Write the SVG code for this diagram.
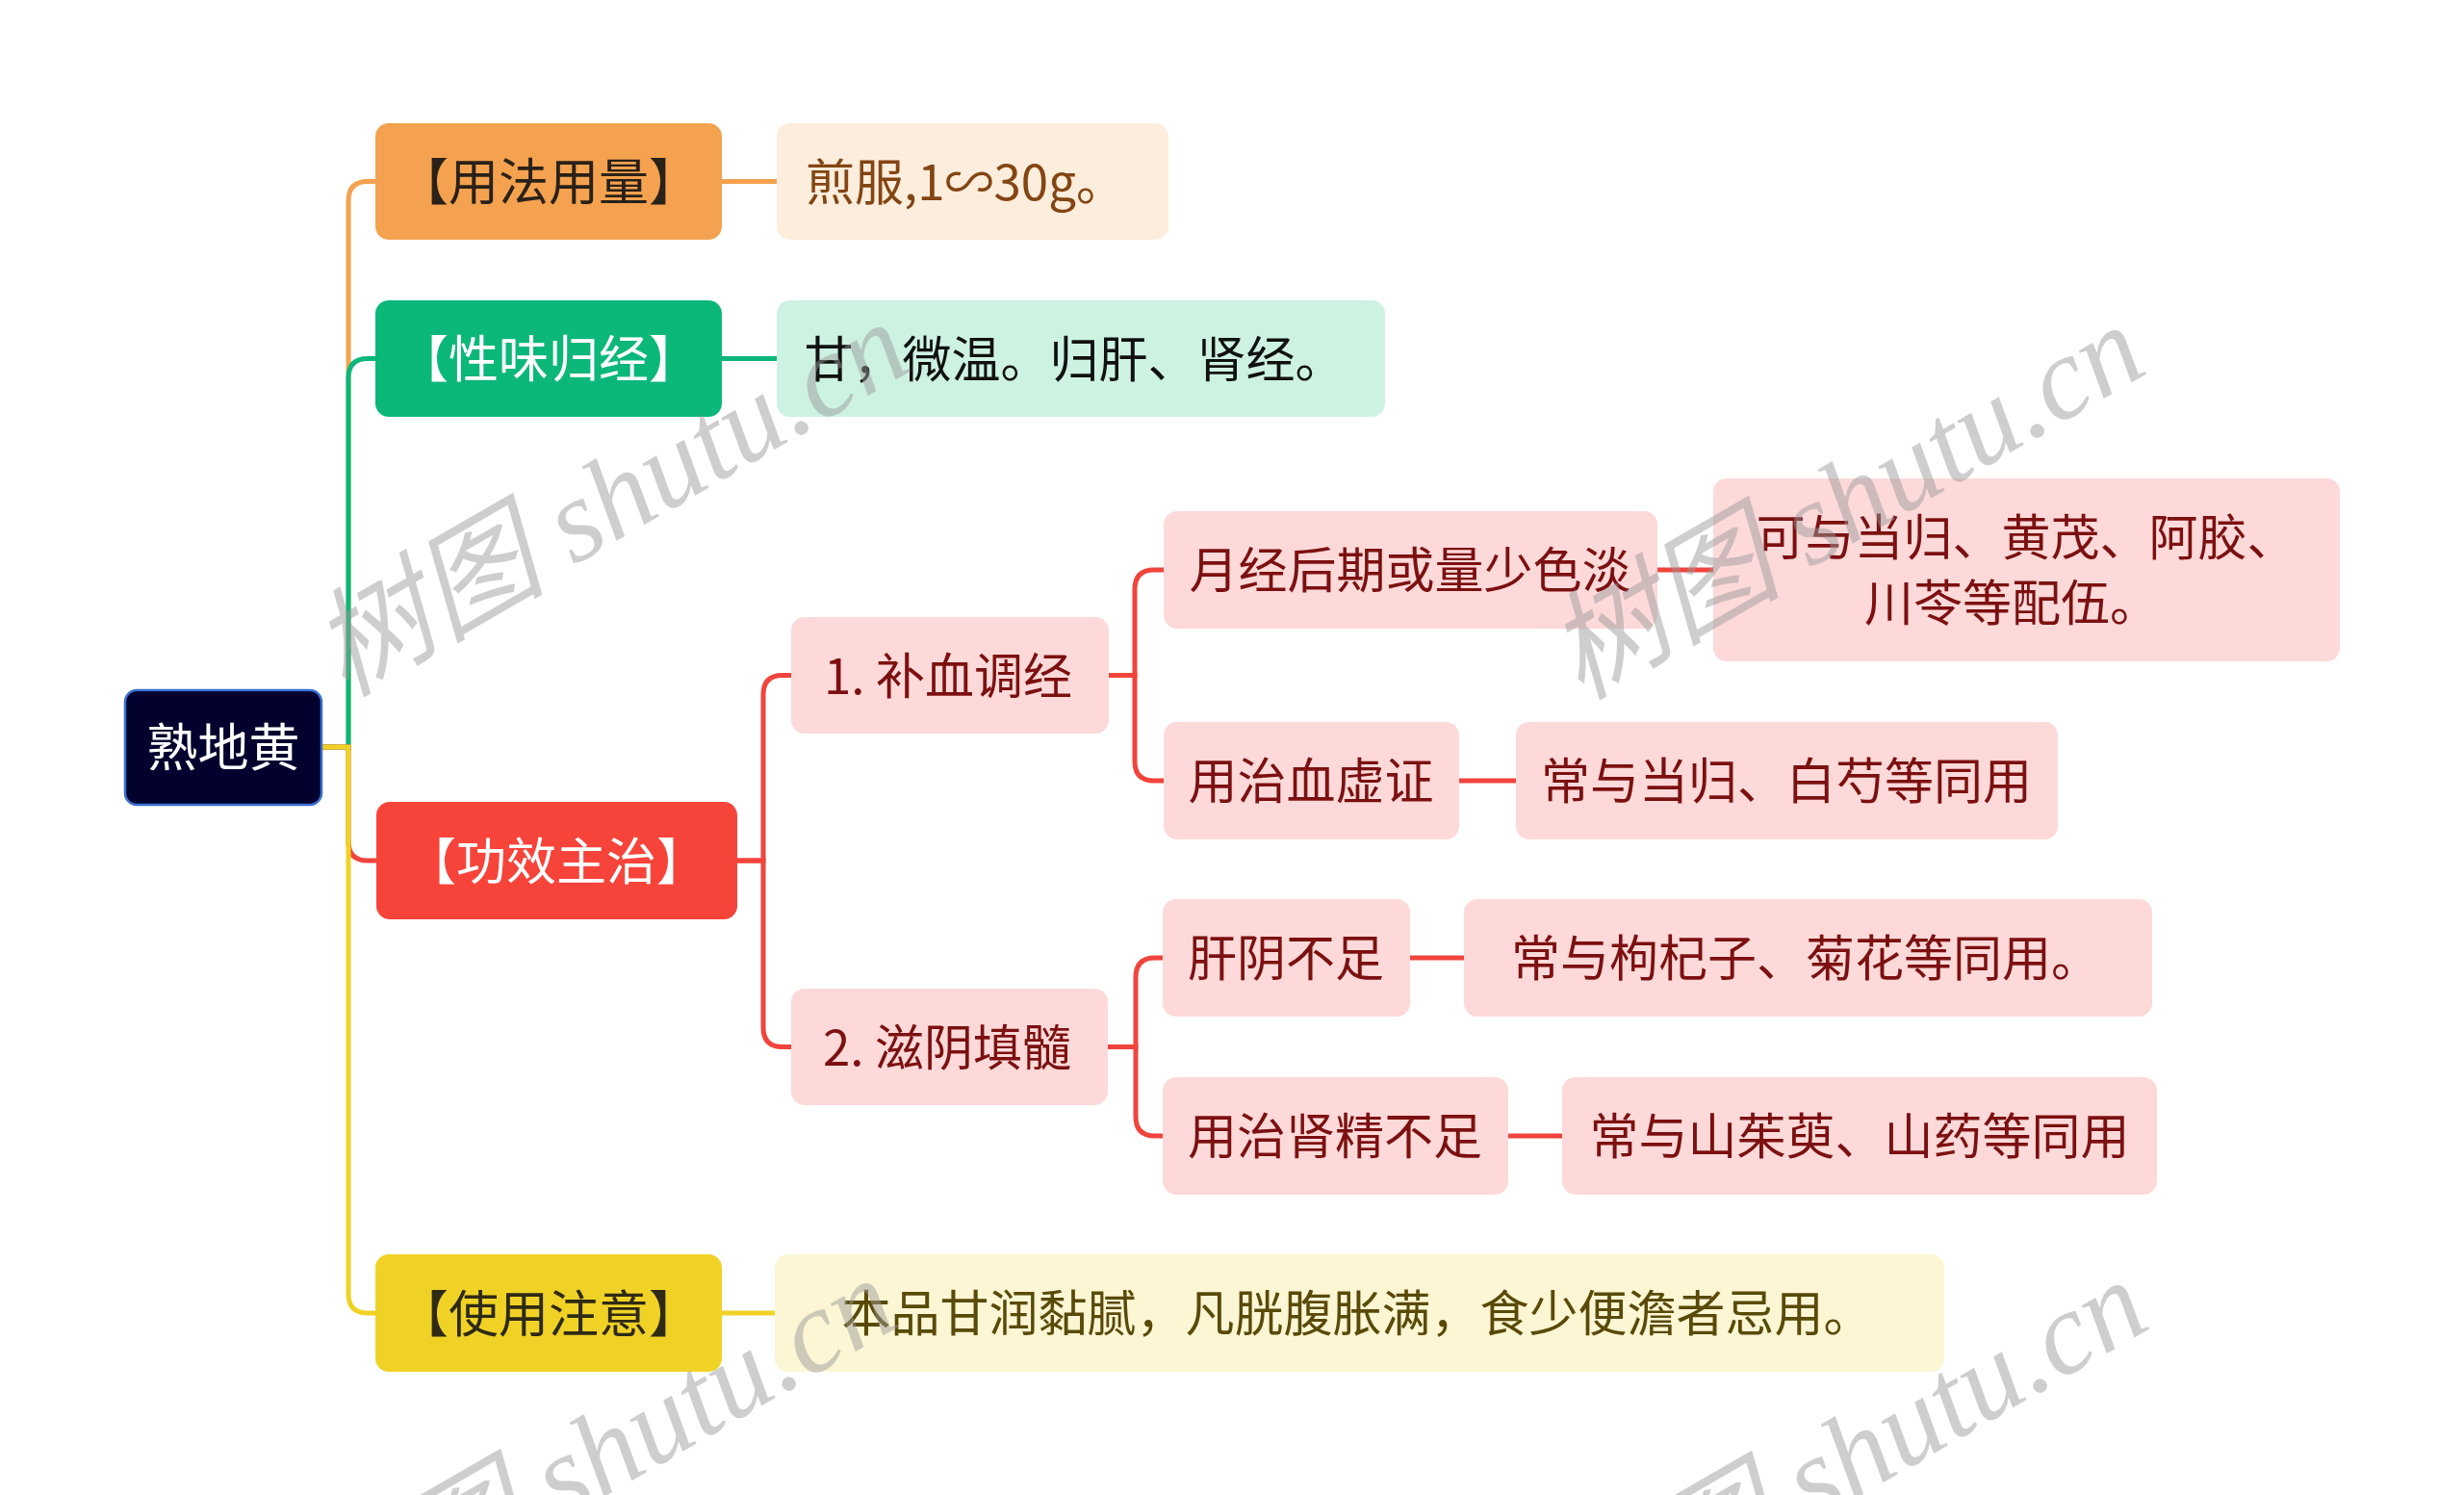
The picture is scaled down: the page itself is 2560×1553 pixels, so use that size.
<svg xmlns="http://www.w3.org/2000/svg" width="2560" height="1553" viewBox="0 0 2560 1553">
<style>
text{font-family:"Noto Sans CJK SC","Noto Sans",sans-serif;text-anchor:middle;dominant-baseline:central}
.l1{font-size:52px}
.l2{font-size:51px}
.pk rect{fill:#fdd9d9}
.pk text{fill:#7c1010}
.ln{fill:none;stroke-width:5;stroke-linecap:butt}
.o{stroke:#f4a24f}.g{stroke:#0cb77a}.r{stroke:#f0443c}.y{stroke:#f0d226}
.wm{font-family:"Liberation Serif","Noto Sans CJK SC",serif;font-style:italic;font-size:122px;fill:#9a9a9a;opacity:0.48;text-anchor:start;dominant-baseline:auto}
</style>
<rect width="2560" height="1553" fill="#ffffff"/>
<g id="connectors">
<path class="ln o" d="M334,776 H362 V208.5 Q362,188.5 382,188.5 H390"/>
<path class="ln g" d="M334,776 H362 V392.5 Q362,372.5 382,372.5 H390"/>
<path class="ln r" d="M334,776 H362 V874 Q362,894 382,894 H391"/>
<path class="ln y" d="M334,776 H362 V1344 Q362,1364 382,1364 H390"/>
<path class="ln o" d="M750,188.5 H807"/>
<path class="ln g" d="M750,372.5 H807"/>
<path class="ln y" d="M750,1364 H805"/>
<path class="ln r" d="M766,894 H793 V721.5 Q793,701.5 813,701.5 H822"/>
<path class="ln r" d="M766,894 H793 V1067.5 Q793,1087.5 813,1087.5 H822"/>
<path class="ln r" d="M1152,701.5 H1179 V612 Q1179,592 1199,592 H1209"/>
<path class="ln r" d="M1152,701.5 H1179 V791 Q1179,811 1199,811 H1209"/>
<path class="ln r" d="M1151,1087.5 H1180 V1015 Q1180,995 1200,995 H1208"/>
<path class="ln r" d="M1151,1087.5 H1180 V1160 Q1180,1180 1200,1180 H1208"/>
<path class="ln r" d="M1722,592 H1780"/>
<path class="ln r" d="M1516,811 H1575"/>
<path class="ln r" d="M1465,995 H1521"/>
<path class="ln r" d="M1567,1180 H1623"/>
</g>
<g id="root"><rect x="130" y="717" width="204" height="119" rx="12" fill="#03022f" stroke="#3a6fd1" stroke-width="2.5"/><text x="232" y="773" font-size="53" fill="#ffffff">熟地黄</text></g>
<g id="n-yongfa"><rect x="390" y="128" width="360" height="121" rx="14" fill="#f4a24f"/><text class="l1" x="570" y="185.5" fill="#2a2118">【用法用量】</text></g>
<g id="n-jianfu"><rect x="807" y="128" width="407" height="121" rx="14" fill="#fdeddc"/><text class="l2" x="1003" y="185.5" fill="#834512">煎服,1∽30g。</text></g>
<g id="n-xingwei"><rect x="390" y="312" width="360" height="121" rx="14" fill="#0cb77a"/><text class="l1" x="570" y="369.5" fill="#ffffff">【性味归经】</text></g>
<g id="n-gan"><rect x="807" y="312" width="632" height="121" rx="14" fill="#cdf2e2"/><text class="l2" x="1116" y="369.5" fill="#111111">甘，微温。归肝、肾经。</text></g>
<g id="n-gongxiao"><rect x="391" y="833" width="375" height="122" rx="14" fill="#f7443b"/><text class="l1" x="578" y="891" fill="#ffffff">【功效主治】</text></g>
<g id="n-buxue" class="pk"><rect x="822" y="641" width="330" height="121" rx="14"/><text class="l2" x="985" y="698.5">1. 补血调经</text></g>
<g id="n-ziyin" class="pk"><rect x="822" y="1027" width="329" height="121" rx="14"/><text class="l2" x="984" y="1084.5">2. 滋阴填髓</text></g>
<g id="n-yuejing" class="pk"><rect x="1209" y="531" width="513" height="122" rx="14"/><text class="l2" x="1465" y="589">月经后期或量少色淡</text></g>
<g id="n-keyu" class="pk"><rect x="1780" y="497" width="651" height="190" rx="14"/><text class="l2" x="2105" y="555">可与当归、黄茂、阿胶、</text><text class="l2" x="2090" y="623">川苓等配伍。</text></g>
<g id="n-xuexu" class="pk"><rect x="1209" y="750" width="307" height="122" rx="14"/><text class="l2" x="1362" y="808">用治血虚证</text></g>
<g id="n-baishao" class="pk"><rect x="1575" y="750" width="563" height="122" rx="14"/><text class="l2" x="1856" y="808">常与当归、白芍等同用</text></g>
<g id="n-ganyin" class="pk"><rect x="1208" y="934" width="257" height="122" rx="14"/><text class="l2" x="1336" y="992">肝阴不足</text></g>
<g id="n-gouqi" class="pk"><rect x="1521" y="934" width="715" height="122" rx="14"/><text class="l2" x="1876" y="992">常与枸杞子、菊花等同用。</text></g>
<g id="n-shenjing" class="pk"><rect x="1208" y="1119" width="359" height="122" rx="14"/><text class="l2" x="1387" y="1177">用治肾精不足</text></g>
<g id="n-shanzhu" class="pk"><rect x="1623" y="1119" width="618" height="122" rx="14"/><text class="l2" x="1932" y="1177">常与山茱萸、山药等同用</text></g>
<g id="n-shiyong"><rect x="390" y="1303" width="360" height="122" rx="14" fill="#f0d226"/><text class="l1" x="570" y="1361" fill="#2e2a14">【使用注意】</text></g>
<g id="n-benpin"><rect x="805" y="1303" width="1215" height="122" rx="14" fill="#fcf6d4"/><text class="l2" x="1410" y="1361" fill="#5a4a08">本品甘润黏腻，凡胱腹胀满，食少便澹者忌用。</text></g>
<g id="watermark">
<text class="wm" transform="translate(358,725) rotate(-30)">树图 shutu.cn</text>
<text class="wm" transform="translate(1642,728) rotate(-30)">树图 shutu.cn</text>
<text class="wm" transform="translate(345,1718) rotate(-30)">树图 shutu.cn</text>
<text class="wm" transform="translate(1645,1720) rotate(-30)">树图 shutu.cn</text>
</g>
</svg>
